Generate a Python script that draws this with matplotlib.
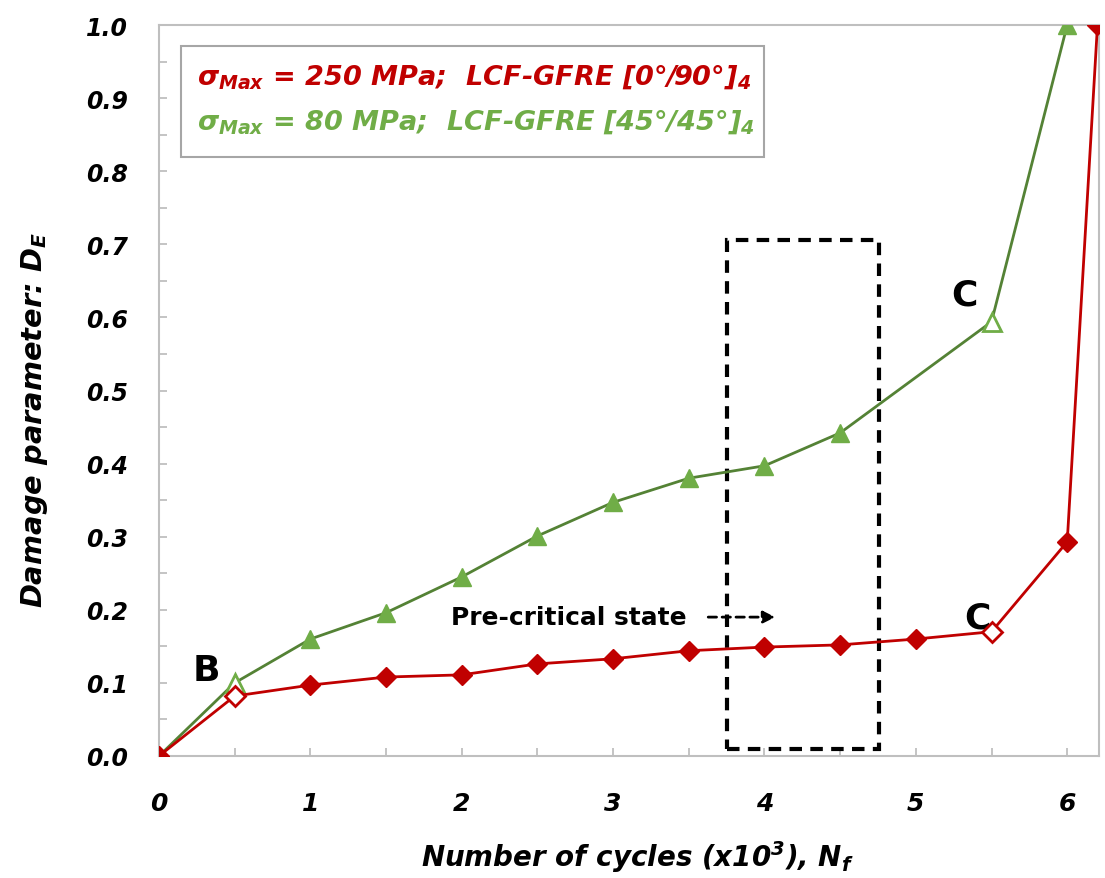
import matplotlib
matplotlib.use("Agg")
import matplotlib.pyplot as plt
from matplotlib.patches import Rectangle

plt.rcParams['mathtext.fontset'] = 'custom'
plt.rcParams['mathtext.rm'] = 'DejaVu Sans:italic:bold'
plt.rcParams['mathtext.it'] = 'DejaVu Sans:italic:bold'
plt.rcParams['mathtext.bf'] = 'DejaVu Sans:italic:bold'

# Data
cycles_red = [0, 0.5, 1, 1.5, 2, 2.5, 3, 3.5, 4, 4.5, 5, 5.5, 6, 6.2]
damage_red = [0.0, 0.082, 0.097, 0.108, 0.111, 0.126, 0.133, 0.144, 0.149,
              0.152, 0.160, 0.170, 0.293, 1.0]
open_red = [1, 11]

cycles_green = [0, 0.5, 1, 1.5, 2, 2.5, 3, 3.5, 4, 4.5, 5.5, 6]
damage_green = [0.0, 0.100, 0.160, 0.196, 0.245, 0.301, 0.347, 0.380, 0.397,
                0.442, 0.594, 1.0]
open_green = [1, 10]

x_ticks = [0, 1, 2, 3, 4, 5, 6]
y_ticks = [0.0, 0.1, 0.2, 0.3, 0.4, 0.5, 0.6, 0.7, 0.8, 0.9, 1.0]

red = '#C00000'
green_line = '#548235'
green_mk = '#70AD47'

fig = plt.figure(figsize=(11.05, 8.79), dpi=100)
ax = fig.add_axes([159 / 1105, 1 - 757 / 879, 940 / 1105, 731 / 879])

ax.plot(cycles_green, damage_green, color=green_line, lw=2.0, marker='^',
        ms=13, mfc=green_mk, mec=green_mk, zorder=3)
ax.plot([cycles_green[i] for i in open_green], [damage_green[i] for i in open_green],
        ls='none', marker='^', ms=13, mfc='white', mec=green_mk, mew=2, zorder=4)

ax.plot(cycles_red, damage_red, color=red, lw=2.0, marker='D', ms=10,
        mfc=red, mec=red, zorder=5)
ax.plot([cycles_red[i] for i in open_red], [damage_red[i] for i in open_red],
        ls='none', marker='D', ms=10, mfc='white', mec=red, mew=2, zorder=6)

ax.set_xlim(0, 6.21)
ax.set_ylim(0, 1.0)
ax.set_xticks(x_ticks)
ax.set_xticks([0.5 + i for i in range(6)], minor=True)
ax.set_yticks(y_ticks)
ax.set_yticks([0.05 + 0.1 * i for i in range(10)], minor=True)
ax.set_yticklabels([f'{v:.1f}' for v in y_ticks])
for s in ax.spines.values():
    s.set_color('#BFBFBF')
    s.set_linewidth(1.5)
ax.tick_params(which='both', direction='in', length=6, width=1.3, color='#BFBFBF')
ax.tick_params(axis='y', pad=22)
ax.tick_params(axis='x', pad=25)
for lab in ax.get_yticklabels():
    lab.set_fontfamily('DejaVu Sans')
    lab.set_fontweight('bold')
    lab.set_fontstyle('italic')
    lab.set_fontsize(17)
for lab in ax.get_xticklabels():
    lab.set_fontfamily('DejaVu Sans')
    lab.set_fontweight('bold')
    lab.set_fontstyle('italic')
    lab.set_fontsize(18)

fig.text(35 / 1105, 1 - 420 / 879, r'Damage parameter: D$_E$', rotation=90,
         ha='center', va='center', family='DejaVu Sans', weight='bold',
         style='italic', fontsize=20.8)
fig.text(637 / 1105, 1 - 857 / 879, r'Number of cycles (x10$^3$), N$_f$',
         ha='center', va='center', family='DejaVu Sans', weight='bold',
         style='italic', fontsize=20)

# legend box
ax.add_patch(Rectangle((0.145, 0.82), 3.85, 0.151, facecolor='white',
                       edgecolor='#A6A6A6', lw=1.5, zorder=2))
ax.text(0.25, 0.930, r'$\sigma_{Max}$ = 250 MPa;  LCF-GFRE [0°/90°]$_4$',
        color=red, family='DejaVu Sans', weight='bold', style='italic',
        fontsize=19.5, va='center', ha='left', zorder=7)
ax.text(0.25, 0.869, r'$\sigma_{Max}$ = 80 MPa;  LCF-GFRE [45°/45°]$_4$',
        color=green_mk, family='DejaVu Sans', weight='bold', style='italic',
        fontsize=19.5, va='center', ha='left', zorder=7)

# dashed region
ax.add_patch(Rectangle((3.755, 0.01), 1.0, 0.696, fill=False, edgecolor='black',
                       lw=3, ls=(0, (3, 2)), zorder=2))
ax.text(2.71, 0.19, 'Pre-critical state', family='DejaVu Sans', weight='bold',
        fontsize=17.9, ha='center', va='center')
ax.annotate('', xy=(4.09, 0.19), xytext=(3.61, 0.19),
            arrowprops=dict(arrowstyle='-|>', color='black', lw=2,
                            ls=(0, (3, 2)), mutation_scale=18))

ax.text(0.31, 0.117, 'B', family='DejaVu Sans', weight='bold', fontsize=26,
        ha='center', va='center')
ax.text(5.32, 0.632, 'C', family='DejaVu Sans', weight='bold', fontsize=26,
        ha='center', va='center')
ax.text(5.41, 0.19, 'C', family='DejaVu Sans', weight='bold', fontsize=26,
        ha='center', va='center')

fig.savefig('out.png', dpi=100)
